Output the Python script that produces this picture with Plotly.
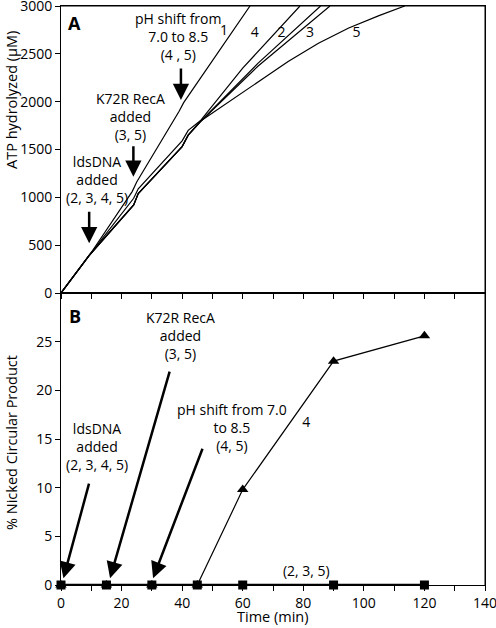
import plotly.graph_objects as go

# ---------------- Panel A data: ATP hydrolyzed (uM) vs time (min) ----------------
a1_time = [0, 9.5, 23.5, 25, 39, 40.5, 62.4]
a1_atp = [0, 400, 1060, 1160, 1900, 1990, 3000]

a4_time = [0, 9.5, 24, 25.5, 40, 42, 46, 60, 78.9]
a4_atp = [0, 400, 990, 1090, 1590, 1700, 1800, 2350, 3000]

a2_time = [0, 9.5, 24, 25.5, 40, 42, 46, 65, 85.7]
a2_atp = [0, 400, 920, 1040, 1530, 1650, 1790, 2400, 3000]

a3_time = [0, 9.5, 24, 25.5, 40, 42, 46, 65, 88.8]
a3_atp = [0, 400, 920, 1040, 1530, 1650, 1790, 2370, 3000]

a5_time = [0, 9.5, 24, 25.5, 40, 42, 46, 55, 65, 75, 85, 95, 105, 113.5]
a5_atp = [0, 400, 920, 1040, 1530, 1650, 1795, 1990, 2210, 2420, 2610, 2770, 2900, 3000]

curve_labels = ["1", "4", "2", "3", "5"]
curve_label_time = [53.8, 64, 72.8, 82.2, 97.6]
curve_label_atp = [2730, 2717, 2717, 2717, 2717]

# ---------------- Panel B data: % nicked circular product ----------------
b_time = [0, 15, 30, 45, 60, 90, 120]
b_235 = [0, 0, 0, 0, 0, 0, 0]
b_4 = [0, 0, 0, 0, 9.8, 23.0, 25.6]

x_ticks = list(range(0, 141, 10))
x_ticktext = [str(v) if v % 20 == 0 else "" for v in x_ticks]
ya_ticks = list(range(0, 3001, 500))
yb_ticks = list(range(0, 26, 5))

FONT = "Open Sans, DejaVu Sans, sans-serif"
fig = go.Figure()

for t, y in [(a1_time, a1_atp), (a4_time, a4_atp), (a2_time, a2_atp),
             (a3_time, a3_atp), (a5_time, a5_atp)]:
    fig.add_trace(go.Scatter(x=t, y=y, mode="lines", xaxis="x", yaxis="y",
                             line=dict(color="black", width=1.2),
                             showlegend=False, hoverinfo="skip"))

fig.add_trace(go.Scatter(x=curve_label_time, y=curve_label_atp, mode="text",
                         text=curve_labels, xaxis="x", yaxis="y",
                         textfont=dict(family=FONT, size=14, color="black"),
                         showlegend=False, hoverinfo="skip"))

fig.add_trace(go.Scatter(x=b_time, y=b_4, mode="lines+markers", xaxis="x2", yaxis="y2",
                         line=dict(color="black", width=1.2),
                         marker=dict(symbol="triangle-up", size=10, color="black"),
                         cliponaxis=False, showlegend=False, hoverinfo="skip"))
fig.add_trace(go.Scatter(x=b_time, y=b_235, mode="lines+markers", xaxis="x2", yaxis="y2",
                         line=dict(color="black", width=2.5),
                         marker=dict(symbol="square", size=9, color="black"),
                         cliponaxis=False, showlegend=False, hoverinfo="skip"))

fig.add_trace(go.Scatter(x=[81, 81], y=[16.6, 1.3], mode="text", text=["4", "(2, 3, 5)"],
                         xaxis="x2", yaxis="y2",
                         textfont=dict(family=FONT, size=14, color="black"),
                         showlegend=False, hoverinfo="skip"))

split = (585 - 293) / 579.0
axis_common = dict(showgrid=False, zeroline=False, showline=True, linecolor="black",
                   linewidth=1, ticks="outside", ticklen=5, tickcolor="black",
                   ticklabeloverflow="allow", automargin=False,
                   tickfont=dict(family=FONT, size=14, color="black"))

fig.update_layout(
    width=496, height=628,
    margin=dict(l=61, r=11, t=6, b=43, autoexpand=False),
    paper_bgcolor="white", plot_bgcolor="white",
    font=dict(family=FONT, size=14, color="black"),
    xaxis=dict(domain=[0, 1], anchor="y", range=[0, 140], tickvals=x_ticks,
               showticklabels=False, mirror=True, **axis_common),
    yaxis=dict(domain=[split, 1], anchor="x", range=[0, 3000], tickvals=ya_ticks,
               mirror=True, **axis_common),
    xaxis2=dict(domain=[0, 1], anchor="y2", range=[0, 140], tickvals=x_ticks,
                ticktext=x_ticktext, mirror=True, **axis_common),
    yaxis2=dict(domain=[0, split], anchor="x2", range=[0, 30], tickvals=yb_ticks,
                mirror=True, **axis_common),
    shapes=[
        dict(type="line", xref="paper", yref="paper", x0=0, x1=1, y0=1, y1=1,
             layer="above", line=dict(color="black", width=1)),
        dict(type="line", xref="paper", yref="paper", x0=1, x1=1, y0=0, y1=1,
             layer="above", line=dict(color="black", width=1)),
    ],
)

ann = []
# axis titles
ann.append(dict(text="ATP hydrolyzed (µM)", xref="paper", yref="paper",
                x=(12 - 61) / 424.0, y=(585 - 100) / 579.0, textangle=-90,
                showarrow=False, xanchor="center", yanchor="middle",
                font=dict(family=FONT, size=14.5)))
ann.append(dict(text="% Nicked Circular Product", xref="paper", yref="paper",
                x=(12 - 61) / 424.0, y=(585 - 443) / 579.0, textangle=-90,
                showarrow=False, xanchor="center", yanchor="middle",
                font=dict(family=FONT, size=14.5)))
ann.append(dict(text="Time (min)", xref="paper", yref="paper",
                x=(273 - 61) / 424.0, y=(585 - 616) / 579.0,
                showarrow=False, xanchor="center", yanchor="middle",
                font=dict(family=FONT, size=14.5)))
# panel letters
ann.append(dict(text="<b>A</b>", xref="x", yref="y", x=4.5, y=2820, showarrow=False,
                font=dict(family=FONT, size=18)))
ann.append(dict(text="<b>B</b>", xref="x2", yref="y2", x=4.5, y=27.6, showarrow=False,
                font=dict(family=FONT, size=18)))

arrow_style = dict(showarrow=True, arrowhead=2, arrowsize=1.3, arrowwidth=2.5,
                   arrowcolor="black", axref="pixel", ayref="pixel")
# Panel A arrows + texts
ann.append(dict(text="", xref="x", yref="y", x=39.6, y=2017, ax=0, ay=-33, **arrow_style))
ann.append(dict(text="", xref="x", yref="y", x=23.9, y=1215, ax=0, ay=-32, **arrow_style))
ann.append(dict(text="", xref="x", yref="y", x=9.3, y=519, ax=0, ay=-33, **arrow_style))
ann.append(dict(text="pH shift from<br>7.0 to 8.5<br>(4 , 5)", xref="x", yref="y",
                x=38.6, y=2680, showarrow=False, font=dict(family=FONT, size=14)))
ann.append(dict(text="K72R RecA<br>added<br>(3, 5)", xref="x", yref="y",
                x=22.8, y=1840, showarrow=False, font=dict(family=FONT, size=14)))
ann.append(dict(text="ldsDNA<br>added<br>(2, 3, 4, 5)", xref="x", yref="y",
                x=11.8, y=1190, showarrow=False, font=dict(family=FONT, size=14)))
# Panel B arrows + texts
ann.append(dict(text="", xref="x2", yref="y2", x=0.8, y=0.7, ax=26, ay=-96, **arrow_style))
ann.append(dict(text="", xref="x2", yref="y2", x=16.2, y=0.7, ax=60, ay=-208, **arrow_style))
ann.append(dict(text="", xref="x2", yref="y2", x=30.4, y=0.7, ax=50, ay=-131, **arrow_style))
ann.append(dict(text="ldsDNA<br>added<br>(2, 3, 4, 5)", xref="x2", yref="y2",
                x=11.8, y=14.2, showarrow=False, font=dict(family=FONT, size=14)))
ann.append(dict(text="K72R RecA<br>added<br>(3, 5)", xref="x2", yref="y2",
                x=39.3, y=25.6, showarrow=False, font=dict(family=FONT, size=14)))
ann.append(dict(text="pH shift from 7.0<br>to 8.5<br>(4, 5)", xref="x2", yref="y2",
                x=56.3, y=16.2, showarrow=False, font=dict(family=FONT, size=14)))

fig.update_layout(annotations=ann)
fig.write_html("out.html", config={"displayModeBar": False},
               post_script="document.body.style.margin='0';document.body.style.padding='0';"
                           "document.body.style.overflow='hidden';")
